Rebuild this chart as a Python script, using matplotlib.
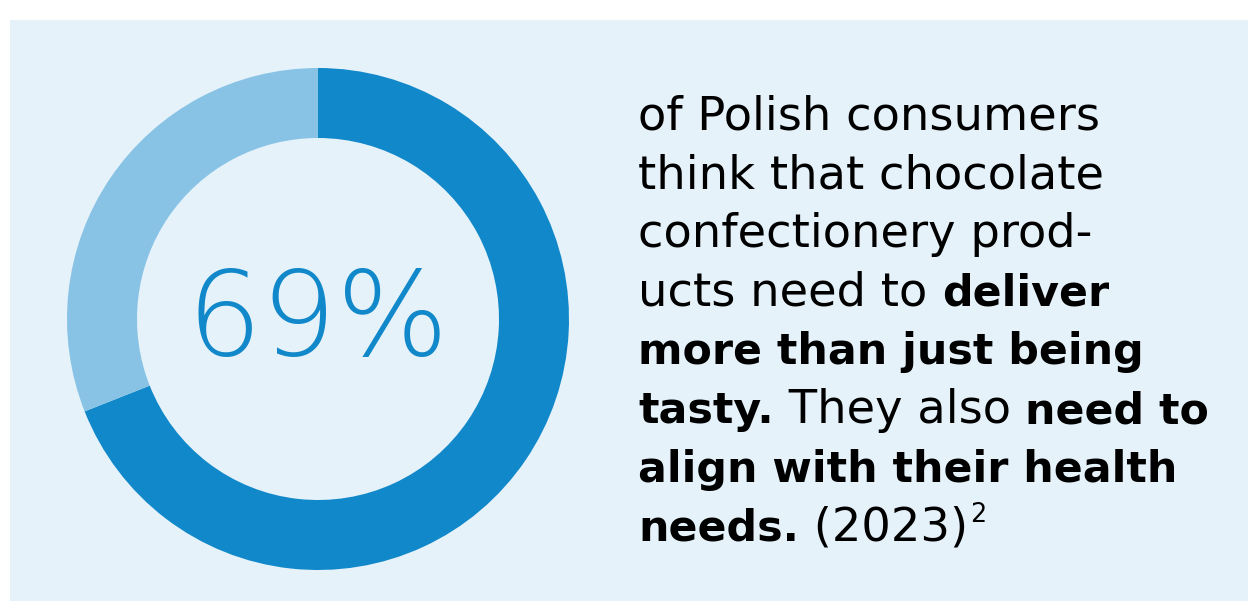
import matplotlib
matplotlib.use("Agg")
import matplotlib.pyplot as plt
from matplotlib.patches import Rectangle

# share of respondents
share_agree = 69
share_rest = 100 - share_agree
big_label = f"{share_agree}%"

# text block, one list of (text, bold) runs per line
text_lines = [
    [("of Polish consumers", False)],
    [("think that chocolate", False)],
    [("confectionery prod-", False)],
    [("ucts need to ", False), ("deliver", True)],
    [("more than just being", True)],
    [("tasty.", True), (" They also ", False), ("need to", True)],
    [("align with their health", True)],
    [("needs.", True), (" (2023)", False), ("2", "sup")],
]

W, H = 1248, 601
BG = "#E5F2FA"
DARK = "#1188C9"
LIGHT = "#88C3E5"

fig = plt.figure(figsize=(W / 100, H / 100), dpi=100)
fig.patch.set_facecolor("white")
fig.patches.append(Rectangle((10 / W, 0), 1 - 10 / W, (H - 20) / H,
                             transform=fig.transFigure, facecolor=BG,
                             edgecolor="none", zorder=-10))

# donut
cx, cy, r = 318, 319, 251
ax = fig.add_axes([(cx - r) / W, (H - cy - r) / H, 2 * r / W, 2 * r / H])
ax.set_facecolor("none")
ax.pie([share_agree, share_rest], colors=[DARK, LIGHT], startangle=90,
       counterclock=False, radius=1,
       wedgeprops=dict(width=70 / r, edgecolor="none"))
ax.set_xlim(-1, 1)
ax.set_ylim(-1, 1)
ax.set_aspect("equal")
ax.axis("off")
ax.text(0, -0.015, big_label, ha="center", va="center", fontsize=85,
        color=DARK, family="DejaVu Sans", fontweight="light")

# paragraph, built run by run so bold and regular words share a line
renderer = fig.canvas.get_renderer()
x0, base0, step = 638, 130, 58.6
fs_reg, fs_bold = 33.4, 30.8
for i, runs in enumerate(text_lines):
    x = x0
    y = (H - (base0 + step * i)) / H
    for txt, style in runs:
        if style == "sup":
            t = fig.text(x / W + 2 / W, y + 18 / H, txt, fontsize=fs_reg * 0.55,
                         color="black", va="baseline", family="DejaVu Sans")
        else:
            t = fig.text(x / W, y, txt, fontsize=fs_bold if style else fs_reg,
                         va="baseline", color="black", family="DejaVu Sans",
                         fontweight="bold" if style else "normal")
        bb = t.get_window_extent(renderer)
        x += bb.width

fig.savefig("out.png", dpi=100, facecolor=fig.get_facecolor())
